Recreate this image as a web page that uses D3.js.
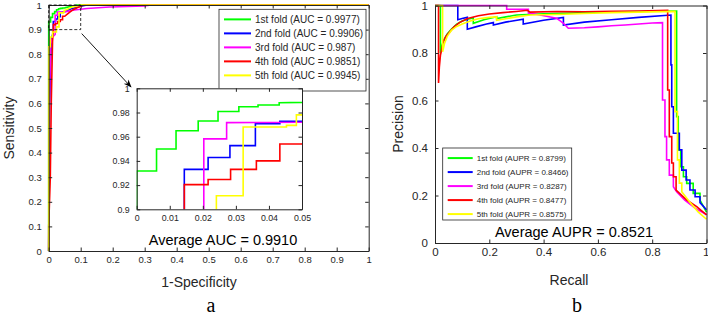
<!DOCTYPE html>
<html>
<head>
	<meta charset='utf-8'>
	<title>ROC и PR</title>
	<style>
		body { margin: 0; background: #fff; }
		svg { display: block; font-family: 'Liberation Sans', Arial, sans-serif; }
		.axis path, .axis line { stroke: #262626; }
		.axis text { fill: #262626; }
		.curve { fill: none; stroke-width: 1.6px; }
	</style>
</head>
<body>
<script src='https://d3js.org/d3.v7.min.js'></script>
<script>
	'use strict';

	// ---- данные ----
	const folds = ['1st fold', '2nd fold', '3rd fold', '4th fold', '5th fold'];
	const colors = ['#00ff00', '#0000ff', '#ff00ff', '#ff0000', '#ffff00'];
	const aucValues = ['0.9977', '0.9906', '0.987', '0.9851', '0.9945'];
	const auprValues = ['0.8799', '0.8466', '0.8287', '0.8477', '0.8575'];
	const avgAuc = '0.9910';
	const avgAupr = '0.8521';

	const rocTicks = [0, 0.1, 0.2, 0.3, 0.4, 0.5, 0.6, 0.7, 0.8, 0.9, 1];
	const prTicks = [0, 0.2, 0.4, 0.6, 0.8, 1];
	const insetXTicks = [0, 0.01, 0.02, 0.03, 0.04, 0.05];
	const insetYTicks = [0.9, 0.92, 0.94, 0.96, 0.98, 1];

	// ROC: [1-specificity, sensitivity]
	const roc1 = [[0,0],[0,0.9316],[0.006,0.9316],[0.006,0.9498],[0.0119,0.9498],[0.0119,0.9649],[0.0186,0.9649],[0.0186,0.973],[0.0246,0.973],[0.0246,0.9808],[0.0309,0.9808],[0.0309,0.9848],[0.0367,0.9848],[0.0367,0.9862],[0.0431,0.9862],[0.0431,0.9881],[0.05,0.9884],[0.07,0.995],[0.09,1],[1,1]];
	const roc2 = [[0,0],[0.003,0.6],[0.008,0.86],[0.0144,0.89],[0.0144,0.933],[0.0216,0.933],[0.0216,0.9428],[0.0282,0.9428],[0.0282,0.9526],[0.0359,0.9526],[0.0359,0.9708],[0.0433,0.9708],[0.0433,0.9727],[0.05,0.9727],[0.07,0.985],[0.1,0.995],[0.12,1],[1,1]];
	const roc3 = [[0,0],[0.002,0.6],[0.006,0.84],[0.012,0.87],[0.0203,0.88],[0.0203,0.9582],[0.0272,0.9582],[0.0272,0.9716],[0.05,0.972],[0.08,0.98],[0.12,0.986],[0.19,0.992],[0.3,0.996],[0.32,1],[1,1]];
	const roc4 = [[0,0],[0,0.1],[0.005,0.3],[0.008,0.6],[0.012,0.85],[0.0144,0.9],[0.0144,0.9204],[0.0216,0.9204],[0.0216,0.9246],[0.0284,0.9246],[0.0284,0.933],[0.0362,0.933],[0.0362,0.94],[0.0433,0.94],[0.0433,0.954],[0.05,0.954],[0.06,0.965],[0.075,0.98],[0.09,0.99],[0.11,1],[1,1]];
	const roc5 = [[0,0],[0,0.83],[0.005,0.83],[0.005,0.87],[0.012,0.87],[0.012,0.89],[0.0241,0.89],[0.0241,0.9112],[0.0322,0.9112],[0.0322,0.968],[0.0453,0.968],[0.0453,0.9694],[0.0483,0.9694],[0.0483,0.978],[0.05,0.978],[0.07,0.99],[0.1,1],[1,1]];

	// PR: [recall, precision]
	const pr1 = [[0,1],[0.02,1],[0.02,0.8],[0.03,0.85],[0.045,0.88],[0.06,0.9],[0.08,0.922],[0.1,0.935],[0.12,0.942],[0.141,0.948],[0.141,0.925],[0.18,0.94],[0.227,0.953],[0.227,0.945],[0.3,0.96],[0.4,0.965],[0.5,0.968],[0.6,0.972],[0.7,0.974],[0.8,0.976],[0.89,0.977],[0.89,0.532],[0.896,0.532],[0.896,0.392],[0.905,0.392],[0.905,0.321],[0.915,0.321],[0.915,0.279],[0.927,0.279],[0.927,0.251],[0.951,0.251],[0.951,0.209],[0.976,0.209],[0.976,0.181],[1,0.13]];
	const pr2 = [[0,1],[0.084,1],[0.084,0.94],[0.1,0.945],[0.119,0.95],[0.119,0.9],[0.15,0.91],[0.19,0.922],[0.215,0.928],[0.215,0.918],[0.26,0.93],[0.325,0.942],[0.325,0.922],[0.4,0.938],[0.473,0.95],[0.473,0.918],[0.55,0.93],[0.65,0.94],[0.75,0.95],[0.869,0.96],[0.869,0.75],[0.872,0.75],[0.872,0.574],[0.878,0.574],[0.878,0.462],[0.9,0.462],[0.9,0.392],[0.909,0.392],[0.909,0.307],[0.925,0.307],[0.925,0.265],[0.939,0.265],[0.939,0.223],[0.958,0.223],[0.958,0.195],[0.976,0.195],[0.976,0.17],[1,0.14]];
	const pr3 = [[0,1],[0.264,1],[0.264,0.984],[0.344,0.984],[0.344,0.968],[0.368,0.964],[0.448,0.946],[0.46,0.936],[0.473,0.925],[0.491,0.904],[0.55,0.906],[0.6,0.91],[0.65,0.915],[0.7,0.918],[0.75,0.922],[0.8,0.926],[0.838,0.928],[0.838,0.602],[0.847,0.602],[0.847,0.448],[0.853,0.448],[0.853,0.35],[0.863,0.35],[0.863,0.286],[0.878,0.286],[0.878,0.237],[0.89,0.216],[0.92,0.18],[0.96,0.145],[1,0.12]];
	const pr4 = [[0,1],[0.013,1],[0.013,0.674],[0.016,0.74],[0.02,0.79],[0.03,0.845],[0.04,0.87],[0.055,0.89],[0.07,0.91],[0.09,0.928],[0.12,0.945],[0.16,0.957],[0.2,0.964],[0.25,0.97],[0.3,0.975],[0.34,0.98],[0.35,0.972],[0.45,0.975],[0.55,0.974],[0.65,0.976],[0.75,0.977],[0.857,0.98],[0.857,0.644],[0.863,0.644],[0.863,0.448],[0.872,0.448],[0.872,0.337],[0.878,0.337],[0.878,0.279],[0.888,0.279],[0.888,0.223],[0.9,0.21],[0.927,0.181],[0.964,0.153],[1,0.118]];
	const pr5 = [[0,1],[0.028,1],[0.028,0.805],[0.035,0.84],[0.045,0.87],[0.06,0.895],[0.08,0.912],[0.1,0.922],[0.13,0.935],[0.16,0.944],[0.2,0.95],[0.227,0.952],[0.227,0.938],[0.3,0.952],[0.35,0.96],[0.45,0.962],[0.55,0.966],[0.65,0.97],[0.75,0.972],[0.884,0.975],[0.884,0.553],[0.893,0.553],[0.893,0.35],[0.9,0.35],[0.9,0.252],[0.909,0.252],[0.909,0.216],[0.94,0.17],[0.97,0.13],[1,0.1]];

	const rocData = [roc1, roc2, roc3, roc4, roc5];
	const prData = [pr1, pr2, pr3, pr4, pr5];

	// ---- рисование ----
	const svg = d3.select('body').append('svg')
		.attr('width', 708)
		.attr('height', 319);

	svg.append('rect').attr('width', 708).attr('height', 319).attr('fill', '#fff');

	function drawBox(g, x, y, xt, yt, fs, fmt) {
		const tick = 3.5;
		const xr = x.range(), yr = y.range();
		g.append('g').attr('class', 'axis axis-x')
			.attr('transform', 'translate(0,' + yr[0] + ')')
			.style('font-size', fs + 'px')
			.call(d3.axisBottom(x).tickValues(xt).tickFormat(fmt).tickSizeInner(-tick).tickSizeOuter(0).tickPadding(5));
		g.append('g').attr('class', 'axis')
			.attr('transform', 'translate(0,' + yr[1] + ')')
			.call(d3.axisTop(x).tickValues(xt).tickFormat('').tickSizeInner(-tick).tickSizeOuter(0));
		g.append('g').attr('class', 'axis')
			.attr('transform', 'translate(' + xr[0] + ',0)')
			.style('font-size', fs + 'px')
			.call(d3.axisLeft(y).tickValues(yt).tickFormat(fmt).tickSizeInner(-tick).tickSizeOuter(0).tickPadding(7));
		g.append('g').attr('class', 'axis')
			.attr('transform', 'translate(' + xr[1] + ',0)')
			.call(d3.axisRight(y).tickValues(yt).tickFormat('').tickSizeInner(-tick).tickSizeOuter(0));
		g.selectAll('.axis').attr('font-family', null);
	}

	function drawCurves(g, x, y, data, clipId) {
		const line = d3.line().x(d => x(d[0])).y(d => y(d[1]));
		const cg = g.append('g');
		if (clipId) cg.attr('clip-path', 'url(#' + clipId + ')');
		cg.selectAll('path').data(data).join('path')
			.attr('class', 'curve')
			.attr('stroke', (d, i) => colors[i])
			.attr('d', line);
	}

	function drawLegend(g, x0, y0, w, h, labels, step, fs, lineLen) {
		const lg = g.append('g');
		lg.append('rect')
			.attr('x', x0).attr('y', y0).attr('width', w).attr('height', h)
			.attr('fill', '#fff').attr('stroke', '#262626').attr('stroke-width', 0.8);
		labels.forEach(function(t, i) {
			const yy = y0 + step * (i + 0.72);
			lg.append('line')
				.attr('x1', x0 + 5).attr('x2', x0 + 5 + lineLen)
				.attr('y1', yy).attr('y2', yy)
				.attr('stroke', colors[i]).attr('stroke-width', 2);
			lg.append('text')
				.attr('x', x0 + 9 + lineLen).attr('y', yy)
				.attr('dy', '0.35em')
				.style('font-size', fs + 'px')
				.attr('fill', '#262626')
				.text(t);
		});
	}

	const fmt = d3.format('~g');

	// ---- ROC (a) ----
	const xL = d3.scaleLinear().domain([0, 1]).range([48.7, 368.7]);
	const yL = d3.scaleLinear().domain([0, 1]).range([251, 5]);
	const gL = svg.append('g');

	svg.append('defs').append('clipPath').attr('id', 'clipL')
		.append('rect').attr('x', 47).attr('y', 3).attr('width', 323).attr('height', 249);
	drawCurves(gL, xL, yL, rocData, 'clipL');
	drawBox(gL, xL, yL, rocTicks, rocTicks, 9.5, fmt);

	// пунктирная рамка увеличенной области
	gL.append('rect')
		.attr('x', xL(0)).attr('y', yL(1))
		.attr('width', xL(0.1) - xL(0)).attr('height', yL(0.9) - yL(1))
		.attr('fill', 'none').attr('stroke', '#000').attr('stroke-width', 0.8)
		.attr('stroke-dasharray', '3,2');

	// стрелка
	svg.append('defs').append('marker')
		.attr('id', 'arrow').attr('viewBox', '0 0 10 10')
		.attr('refX', 9).attr('refY', 5)
		.attr('markerWidth', 9).attr('markerHeight', 9)
		.attr('orient', 'auto')
		.append('path').attr('d', 'M0,1 L10,5 L0,9 L3,5 Z').attr('fill', '#000');
	gL.append('line')
		.attr('x1', xL(0.1) + 1).attr('y1', yL(0.9) + 4)
		.attr('x2', 131).attr('y2', 87)
		.attr('stroke', '#000').attr('stroke-width', 0.9)
		.attr('marker-end', 'url(#arrow)');

	// вставка
	const xI = d3.scaleLinear().domain([0, 0.05]).range([136.7, 302]);
	const yI = d3.scaleLinear().domain([0.9, 1]).range([209.3, 88.3]);
	const gI = svg.append('g');
	gI.append('rect').attr('x', 136.7).attr('y', 88.3).attr('width', 165.3).attr('height', 121).attr('fill', '#fff');
	svg.append('defs').append('clipPath').attr('id', 'clipI')
		.append('rect').attr('x', 136.7).attr('y', 88.3).attr('width', 165.3).attr('height', 121);
	drawCurves(gI, xI, yI, rocData, 'clipI');
	drawBox(gI, xI, yI, insetXTicks, insetYTicks, 8.8, fmt);

	drawLegend(gL, 219, 9.3, 147, 81.7, folds.map((f, i) => f + ' (AUC = ' + aucValues[i] + ')'), 14, 10, 27);

	gL.append('text')
		.attr('x', 223).attr('y', 245)
		.attr('text-anchor', 'middle').style('font-size', '14.5px').attr('fill', '#000')
		.text('Average AUC = ' + avgAuc);
	gL.append('text')
		.attr('x', 199).attr('y', 287)
		.attr('text-anchor', 'middle').style('font-size', '14px').attr('fill', '#262626')
		.text('1-Specificity');
	gL.append('text')
		.attr('transform', 'translate(14,128) rotate(-90)')
		.attr('text-anchor', 'middle').style('font-size', '14px').attr('fill', '#262626')
		.text('Sensitivity');
	gL.append('text')
		.attr('x', 211).attr('y', 312)
		.attr('text-anchor', 'middle').style('font-size', '20px')
		.style('font-family', "'Liberation Serif', 'Times New Roman', serif")
		.text('a');

	// ---- PR (b) ----
	const xR = d3.scaleLinear().domain([0, 1]).range([435, 706.5]);
	const yR = d3.scaleLinear().domain([0, 1]).range([243, 5.5]);
	const gR = svg.append('g');
	svg.append('defs').append('clipPath').attr('id', 'clipR')
		.append('rect').attr('x', 433).attr('y', 3).attr('width', 275).attr('height', 242);
	drawCurves(gR, xR, yR, prData, 'clipR');
	drawBox(gR, xR, yR, prTicks, prTicks, 11.5, fmt);
	// последняя подпись у самого края окна
	gR.selectAll('.axis-x .tick text').filter(d => d === 1).attr('text-anchor', 'end').attr('x', 2.5);

	drawLegend(gR, 442.7, 148, 129, 72, folds.map((f, i) => f + ' (AUPR = ' + auprValues[i] + ')'), 14, 8, 25);

	gR.append('text')
		.attr('x', 574).attr('y', 237)
		.attr('text-anchor', 'middle').style('font-size', '14.5px').attr('fill', '#000')
		.text('Average AUPR = ' + avgAupr);
	gR.append('text')
		.attr('x', 569).attr('y', 285)
		.attr('text-anchor', 'middle').style('font-size', '14px').attr('fill', '#262626')
		.text('Recall');
	gR.append('text')
		.attr('transform', 'translate(403,124) rotate(-90)')
		.attr('text-anchor', 'middle').style('font-size', '14px').attr('fill', '#262626')
		.text('Precision');
	gR.append('text')
		.attr('x', 577).attr('y', 312)
		.attr('text-anchor', 'middle').style('font-size', '20px')
		.style('font-family', "'Liberation Serif', 'Times New Roman', serif")
		.text('b');
</script>
</body>
</html>
